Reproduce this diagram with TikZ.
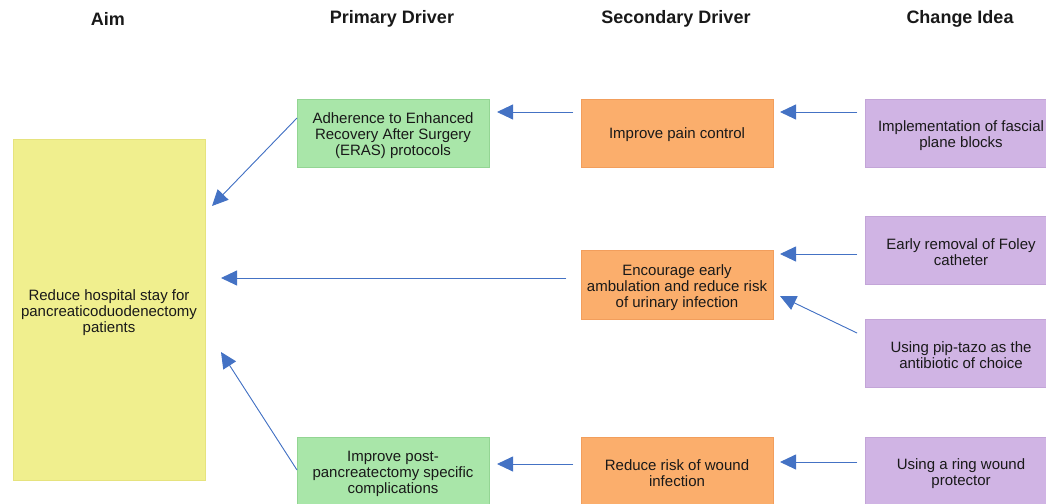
\documentclass[tikz,border=0pt]{standalone}
\usepackage{fontspec}
\setmainfont{Liberation Sans}
\usetikzlibrary{arrows.meta}

\definecolor{aimfill}{HTML}{F0EF8E}
\definecolor{aimline}{HTML}{E6E37E}
\definecolor{pdfill}{HTML}{A9E6A9}
\definecolor{pdline}{HTML}{93D593}
\definecolor{sdfill}{HTML}{FBAE6C}
\definecolor{sdline}{HTML}{F29E5C}
\definecolor{cifill}{HTML}{D0B4E4}
\definecolor{ciline}{HTML}{C3A5D8}
\definecolor{arrowblue}{HTML}{4472C4}

\tikzset{
  x=1pt, y=-1pt,
  boxtext/.style={font=\fontsize{15}{16}\selectfont, align=center, text=black!90},
  header/.style={font=\fontsize{18}{20}\bfseries, text=black!90},
  card/.style={draw, line width=0.8pt, boxtext},
  aimbox/.style={card, fill=aimfill, draw=aimline},
  pdbox/.style={card, fill=pdfill, draw=pdline},
  sdbox/.style={card, fill=sdfill, draw=sdline},
  cibox/.style={card, fill=cifill, draw=ciline},
  link/.style={draw=arrowblue, line width=0.9pt, -{Triangle[length=16pt,width=15pt]}, fill=arrowblue},
}

\begin{document}
\begin{tikzpicture}
\useasboundingbox (0,0) rectangle (1046,503);
\clip (0,0) rectangle (1046,503);

% column headings
\node[header] (hAim) at (108,19) {Aim};
\node[header] (hPD) at (392,19) {Primary Driver};
\node[header] (hSD) at (676,19) {Secondary Driver};
\node[header] (hCI) at (960,19) {Change Idea};

% aim
\path[aimbox] (13,139) rectangle (205,480);
\node[boxtext] (aim) at (109,312.5) {Reduce hospital stay for\\pancreaticoduodenectomy\\patients};
\coordinate (aimA) at (212,206);
\coordinate (aimB) at (221,278);
\coordinate (aimC) at (221,352);

% primary drivers
\path[pdbox] (297,99) rectangle (489,167);
\node[boxtext] (pd1) at (393,135.5) {Adherence to Enhanced\\Recovery After Surgery\\(ERAS) protocols};
\path[pdbox] (297,437) rectangle (489,505);
\node[boxtext] (pd2) at (393,473.5) {Improve post-\\pancreatectomy specific\\complications};

% secondary drivers
\path[sdbox] (581,99) rectangle (773,167);
\node[boxtext] (sd1) at (677,135) {Improve pain control};
\path[sdbox] (581,250) rectangle (773,319);
\node[boxtext] (sd2) at (677,287.5) {Encourage early\\ambulation and reduce risk\\of urinary infection};
\path[sdbox] (581,437) rectangle (773,505);
\node[boxtext] (sd3) at (677,473.5) {Reduce risk of wound\\infection};

% change ideas
\path[cibox] (865,99) rectangle (1057,167);
\node[boxtext] (ci1) at (961,135.5) {Implementation of fascial\\plane blocks};
\path[cibox] (865,216) rectangle (1057,284);
\node[boxtext] (ci2) at (961,252.5) {Early removal of Foley\\catheter};
\path[cibox] (865,319) rectangle (1057,387);
\node[boxtext] (ci3) at (961,355.5) {Using pip-tazo as the\\antibiotic of choice};
\path[cibox] (865,437) rectangle (1057,505);
\node[boxtext] (ci4) at (961,473.5) {Using a ring wound\\protector};

% connector end points on the box edges
\coordinate (ci1w) at (857,112);
\coordinate (sd1e) at (780,112);
\coordinate (sd1w) at (573,112);
\coordinate (pd1e) at (497,112);
\coordinate (pd1w) at (297,118);
\coordinate (sd2w) at (566,278);
\coordinate (ci2w) at (857,254);
\coordinate (sd2e) at (780,254);
\coordinate (ci3w) at (857,333);
\coordinate (sd2se) at (780,296);
\coordinate (pd2w) at (297,470);
\coordinate (sd3w) at (573,464);
\coordinate (pd2e) at (497,464);
\coordinate (ci4w) at (857,462);
\coordinate (sd3e) at (780,462);

% connectors
\draw[link] (ci1w) -- (sd1e);
\draw[link] (sd1w) -- (pd1e);
\draw[link] (pd1w) -- (aimA);
\draw[link] (sd2w) -- (aimB);
\draw[link] (ci2w) -- (sd2e);
\draw[link] (ci3w) -- (sd2se);
\draw[link] (pd2w) -- (aimC);
\draw[link] (sd3w) -- (pd2e);
\draw[link] (ci4w) -- (sd3e);
\end{tikzpicture}
\end{document}
